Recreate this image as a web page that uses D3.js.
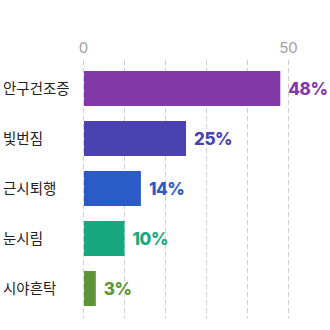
<!DOCTYPE html>
<html><head><meta charset="utf-8">
<script src="https://cdn.jsdelivr.net/npm/d3@7"></script>
<style>body{margin:0;background:#fff;}svg{display:block;}</style>
</head><body>
<script>
const categories = ["안구건조증", "빛번짐", "근시퇴행", "눈시림", "시야흔탁"];
const values = [48, 25, 14, 10, 3];
const colors = ["#833aa8", "#4a42b0", "#2a5bc7", "#17a880", "#5e943a"];
const tickValues = [0, 50];
const gridValues = [0, 10, 20, 30, 40, 50];

const W = 330, H = 330;
const svg = d3.select("body").append("svg").attr("width", W).attr("height", H);

const x = d3.scaleLinear().domain([0, 50]).range([83.5, 288.5]);
const y = d3.scaleBand().domain(categories).range([63.5, 313.5]).paddingInner(0.3).paddingOuter(0.15);

// gridlines
svg.append("g").selectAll("line").data(gridValues).join("line")
  .attr("x1", d => x(d)).attr("x2", d => x(d))
  .attr("y1", 60).attr("y2", 318)
  .attr("stroke", "#cccccc").attr("stroke-width", 1).attr("stroke-dasharray", "5,3");

// tick labels
svg.append("g").selectAll("text").data(tickValues).join("text")
  .attr("x", d => x(d)).attr("y", 53)
  .attr("text-anchor", "middle")
  .attr("font-family", "Inter, 'Noto Sans', sans-serif")
  .attr("font-size", 15).attr("fill", "#a0a0a0")
  .text(d => d);

// bars
svg.append("g").selectAll("rect").data(values).join("rect")
  .attr("x", x(0) + 0.5)
  .attr("y", (d, i) => y(categories[i]))
  .attr("width", d => x(d) - x(0) - 0.5)
  .attr("height", y.bandwidth())
  .attr("fill", (d, i) => colors[i]);

// category labels
svg.append("g").selectAll("text").data(categories).join("text")
  .attr("x", 3).attr("y", d => y(d) + y.bandwidth() / 2)
  .attr("dy", "0.35em")
  .attr("font-family", "'Noto Sans CJK KR', sans-serif")
  .attr("font-size", 14.5).attr("fill", "#222")
  .text(d => d);

// value labels
svg.append("g").selectAll("text").data(values).join("text")
  .attr("x", d => x(d) + 8)
  .attr("y", (d, i) => y(categories[i]) + y.bandwidth() / 2)
  .attr("dy", "0.36em")
  .attr("font-family", "Inter, 'Noto Sans', sans-serif")
  .attr("font-weight", 800)
  .attr("font-size", 17).attr("fill", (d, i) => colors[i])
  .attr("letter-spacing", "-0.4")
  .text(d => d + "%");
</script>
</body></html>
